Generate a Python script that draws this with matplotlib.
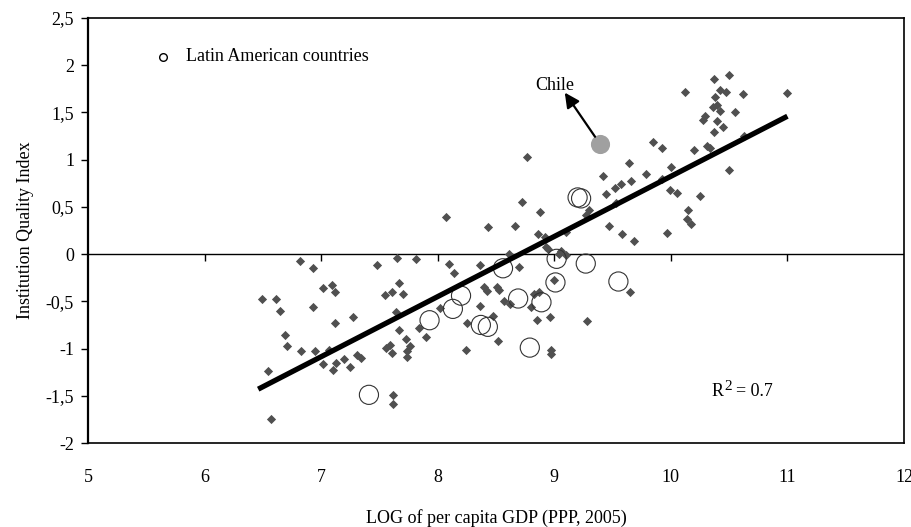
import matplotlib
matplotlib.use("Agg")
import matplotlib.pyplot as plt

plt.rcParams['font.family'] = ['Liberation Serif', 'DejaVu Serif']
plt.rcParams['mathtext.fontset'] = 'stix'

# ---- data ----
world_x = [6.82,6.93,7.48,7.65,7.81,6.49,6.61,6.65,7.02,7.09,
           7.12,6.93,7.12,7.27,7.67,7.55,7.61,7.70,7.64,6.69,
           6.71,6.83,6.95,7.07,7.02,7.13,7.10,7.20,7.25,7.31,
           7.34,7.67,7.73,7.84,7.90,7.56,7.59,7.61,7.76,7.74,
           7.74,6.54,7.62,7.62,6.57,
           8.07,8.43,8.72,8.88,8.66,8.86,8.92,8.93,8.95,9.10,
           8.61,8.10,8.14,8.36,8.70,9.04,9.06,9.10,9.00,8.40,
           8.42,8.51,8.53,8.57,8.62,8.83,8.87,8.80,8.36,8.02,
           8.25,8.47,8.85,8.96,9.28,8.52,8.24,8.97,8.97,9.42,
           9.44,9.52,9.57,9.66,9.64,9.47,9.58,9.68,9.65,9.30,
           9.27,9.53,8.77,
           10.37,10.50,10.12,10.42,10.47,10.62,11.00,10.38,10.36,10.40,
           10.42,10.55,10.29,10.28,10.40,10.45,10.37,9.85,9.92,10.20,
           10.31,10.34,10.63,10.00,9.79,9.92,9.99,10.05,10.50,10.25,
           10.15,10.14,10.17,9.97]
world_y = [-0.07,-0.15,-0.12,-0.04,-0.05,-0.48,-0.47,-0.60,-0.36,-0.33,
           -0.40,-0.56,-0.73,-0.67,-0.31,-0.43,-0.40,-0.42,-0.61,-0.86,
           -0.97,-1.03,-1.03,-1.01,-1.16,-1.15,-1.23,-1.11,-1.19,-1.07,
           -1.10,-0.80,-0.90,-0.78,-0.88,-0.99,-0.96,-1.05,-0.97,-1.03,
           -1.09,-1.24,-1.49,-1.59,-1.75,
           0.39,0.29,0.55,0.45,0.30,0.21,0.18,0.07,0.05,0.23,
           0.00,-0.10,-0.20,-0.12,-0.14,0.00,0.03,-0.01,-0.27,-0.35,
           -0.39,-0.35,-0.38,-0.50,-0.53,-0.42,-0.40,-0.56,-0.55,-0.57,
           -0.73,-0.66,-0.70,-0.67,-0.71,-0.92,-1.02,-1.02,-1.06,0.83,
           0.64,0.70,0.74,0.77,0.97,0.30,0.21,0.14,-0.40,0.47,
           0.41,0.54,1.03,
           1.85,1.90,1.72,1.74,1.72,1.69,1.71,1.66,1.56,1.58,
           1.52,1.50,1.46,1.42,1.41,1.35,1.29,1.19,1.12,1.10,
           1.14,1.12,1.25,0.92,0.85,0.80,0.68,0.65,0.89,0.61,
           0.47,0.37,0.32,0.22]

latam_x = [7.41,7.93,8.20,8.13,8.37,8.43,8.56,8.69,8.89,8.79,9.02,9.01,9.27,9.55,9.20,9.23]
latam_y = [-1.49,-0.70,-0.44,-0.58,-0.75,-0.77,-0.15,-0.47,-0.51,-0.99,-0.05,-0.30,-0.10,-0.29,0.60,0.59]

chile_x, chile_y = 9.39, 1.17
chile_label_pos = (9.0, 1.79)
arrow_tip = (9.09, 1.71)

fit_x = [6.46, 11.0]
fit_y = [-1.43, 1.46]

x_ticks = [5, 6, 7, 8, 9, 10, 11, 12]
y_ticks = [-2, -1.5, -1, -0.5, 0, 0.5, 1, 1.5, 2, 2.5]
y_tick_labels = ['-2', '-1,5', '-1', '-0,5', '0', '0,5', '1', '1,5', '2', '2,5']
r2_value = "0.7"
r2_pos = (10.35, -1.46)

# ---- figure ----
fig = plt.figure(figsize=(9.12, 5.27), dpi=100)
ax = fig.add_axes([88/912, 1-443/527, (904-88)/912, (443-18)/527])

ax.set_xlim(5, 12)
ax.set_ylim(-2, 2.5)

ax.scatter(world_x, world_y, marker='D', s=22, color='#505050', linewidths=0, zorder=3)
ax.scatter(latam_x, latam_y, marker='o', s=190, facecolors='none', edgecolors='#333333',
           linewidths=0.8, zorder=4)
ax.scatter([chile_x], [chile_y], marker='o', s=190, color='#a0a0a0', linewidths=0, zorder=4)
ax.plot(fit_x, fit_y, color='black', lw=3.8, solid_capstyle='butt', zorder=5)

# zero axis with downward ticks
ax.axhline(0, color='black', lw=1.0, zorder=2)
ax.plot(x_ticks[1:-1], [0]*len(x_ticks[1:-1]), linestyle='none', marker=3,
        markersize=5, markeredgewidth=1.0, color='black', zorder=2)

# arrow & label
ax.annotate('', xy=arrow_tip, xytext=(chile_x, chile_y),
            arrowprops=dict(arrowstyle='-|>', lw=1.6, color='black',
                            shrinkA=6, shrinkB=0, mutation_scale=22), zorder=6)
ax.text(chile_label_pos[0], chile_label_pos[1], 'Chile', fontsize=13,
        ha='center', va='center')

# R^2 annotation (R, raised 2, = value)
ax.annotate('R', xy=r2_pos, xytext=(0, 0), textcoords='offset points',
            fontsize=13, ha='left', va='center')
ax.annotate('2', xy=r2_pos, xytext=(9, 4), textcoords='offset points',
            fontsize=11, ha='left', va='center')
ax.annotate('= ' + r2_value, xy=r2_pos, xytext=(17.5, 0), textcoords='offset points',
            fontsize=13, ha='left', va='center')

# legend
ax.plot([0.0919], [0.909], marker='o', markersize=5.5, markerfacecolor='none',
        markeredgecolor='black', markeredgewidth=1.0, transform=ax.transAxes,
        linestyle='none', clip_on=False)
ax.text(0.120, 0.909, 'Latin American countries', fontsize=13,
        transform=ax.transAxes, ha='left', va='center')

# axes styling
ax.set_xticks(x_ticks)
ax.set_xticklabels([str(t) for t in x_ticks], fontsize=13)
ax.tick_params(axis='x', length=0, pad=19)
ax.set_yticks(y_ticks)
ax.set_yticklabels(y_tick_labels, fontsize=13)
ax.tick_params(axis='y', direction='out', length=5, width=1.0, pad=5)

for side in ['top', 'right', 'bottom']:
    ax.spines[side].set_linewidth(1.2)
ax.spines['left'].set_linewidth(1.6)

ax.set_ylabel('Institution Quality Index', fontsize=13, labelpad=8)
ax.set_xlabel('LOG of per capita GDP (PPP, 2005)', fontsize=13, labelpad=16)

fig.savefig('out.png', dpi=100)
